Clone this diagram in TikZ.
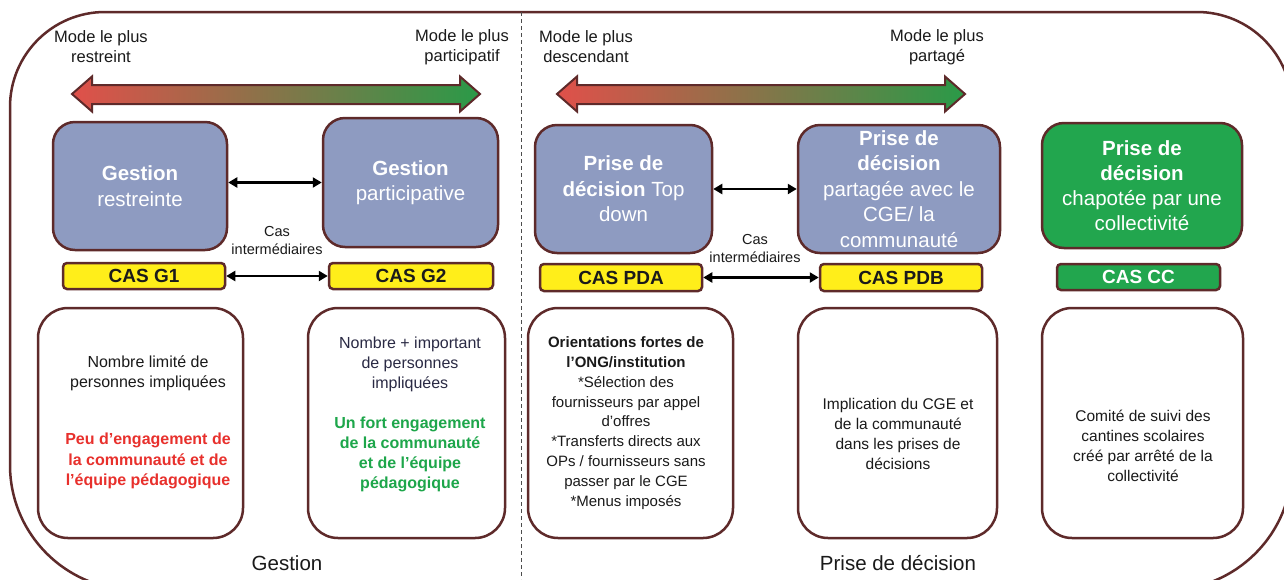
\documentclass[tikz,border=0pt]{standalone}
\usepackage{fontspec}
\setmainfont{Liberation Sans}
\usetikzlibrary{arrows.meta}
\definecolor{brd}{HTML}{5E2A2A}
\definecolor{bluef}{HTML}{8E9BC1}
\definecolor{yel}{HTML}{FFEE1A}
\definecolor{grn}{HTML}{22A64E}
\definecolor{redt}{HTML}{E8302C}
\definecolor{grnt}{HTML}{1DA64A}
\definecolor{arrred}{HTML}{E0504A}
\definecolor{arrgrn}{HTML}{2A9A48}
\definecolor{navy}{HTML}{2A2A44}
\definecolor{txt}{HTML}{1A1A1A}
\newcommand\setfs[2]{\fontsize{#1}{#2}\selectfont}
\begin{document}
\begin{tikzpicture}[x=1pt,y=-1pt,
  frame/.style={draw=brd, line width=2.5pt},
  bluebox/.style={draw=brd, line width=2.5pt, fill=bluef, rounded corners=22pt, align=center, text=white, font=\setfs{20.5}{25.5}},
  greenbox/.style={draw=brd, line width=2.5pt, fill=grn, rounded corners=22pt, align=center, text=white, font=\setfs{20.5}{25}},
  yelbox/.style={draw=brd, line width=2.5pt, fill=yel, rounded corners=4pt, text=txt, font=\setfs{19}{22}\bfseries, inner sep=0pt},
  ccbox/.style={draw=brd, line width=2.5pt, fill=grn, rounded corners=4pt, text=white, font=\setfs{19}{22}\bfseries, inner sep=0pt},
  whitebox/.style={draw=brd, line width=2.5pt, fill=white, rounded corners=30pt, minimum height=230pt},
  body/.style={align=center, inner sep=0pt, text=txt, font=\setfs{16}{20}},
  modelbl/.style={align=center, inner sep=0pt, text=txt, font=\setfs{16.5}{20}},
  caslbl/.style={align=center, inner sep=0pt, text=txt, font=\setfs{14.5}{18}},
  seclbl/.style={inner sep=0pt, text=txt, font=\setfs{20.5}{24}},
  link/.style={draw=black, line width=2.5pt, {Triangle[length=9pt,width=10pt]}-{Triangle[length=9pt,width=10pt]}},
  bigarrow/.style={draw=brd, line width=2pt, left color=arrred, right color=arrgrn}
]
\useasboundingbox (0,0) rectangle (1284,579);
\fill[white] (0,0) rectangle (1284,579);
\begin{scope}
\clip (0,0) rectangle (1284,579);
\draw[frame, rounded corners=95pt] (10,300) -- (10,12) -- (1292,12) -- (1292,300)
  [rounded corners=125pt] -- (1292,590) -- (10,590) -- cycle;
\end{scope}
\draw[black!70, line width=0.8pt, dash pattern=on 4pt off 3pt] (521,12) -- (521,579);

% gradient double arrows
\draw[bigarrow] (72,94) -- (92,76.5) -- (92,85) -- (460,85) -- (460,76.5) -- (480,94)
  -- (460,111.5) -- (460,104) -- (92,104) -- (92,111.5) -- cycle;
\draw[bigarrow] (557,94) -- (577,76.5) -- (577,85) -- (945,85) -- (945,76.5) -- (965,94)
  -- (945,111.5) -- (945,104) -- (577,104) -- (577,111.5) -- cycle;

% mode labels
\node[modelbl] (m1) at (101,47) {Mode le plus\\restreint};
\node[modelbl] (m2) at (462,47) {Mode le plus\\participatif};
\node[modelbl] (m3) at (586,47) {Mode le plus\\descendant};
\node[modelbl] (m4) at (937,47) {Mode le plus\\partagé};

% top boxes
\node[bluebox, minimum width=174pt, minimum height=128pt] (gr) at (140,186) {\textbf{Gestion}\\restreinte};
\node[bluebox, minimum width=175pt, minimum height=129pt] (gp) at (410.5,182.5) {\textbf{Gestion}\\participative};
\node[bluebox, minimum width=177pt, minimum height=128pt] (pa) at (623.5,189) {\textbf{Prise de}\\\textbf{décision} Top\\down};
\node[bluebox, minimum width=202pt, minimum height=128pt] (pb) at (899,189) {\textbf{Prise de}\\\textbf{décision}\\partagée avec le\\CGE/ la\\communauté};
\node[greenbox, minimum width=200pt, minimum height=125pt] (cc) at (1142,185.5) {\textbf{Prise de}\\\textbf{décision}\\chapotée par une\\collectivité};

% CAS boxes
\node[yelbox, minimum width=162pt, minimum height=26pt] (g1) at (144,276) {CAS G1};
\node[yelbox, minimum width=164pt, minimum height=26pt] (g2) at (411,276) {CAS G2};
\node[yelbox, minimum width=162pt, minimum height=27pt] (ca) at (621,277.5) {CAS PDA};
\node[yelbox, minimum width=162pt, minimum height=27pt] (cb) at (901,277.5) {CAS PDB};
\node[ccbox, minimum width=163pt, minimum height=26pt] (ccc) at (1138.5,277) {CAS CC};

% connectors
\draw[link] (gr.east |- gp.west) -- (gp.west);
\draw[link] (g1.east) -- (g2.west);
\draw[link] (pa.east) -- (pb.west);
\draw[link] (ca.east) -- (cb.west);

\node[caslbl] (ci1) at (277,241) {Cas\\intermédiaires};
\node[caslbl] (ci2) at (755,249) {Cas\\intermédiaires};

% bottom boxes
\node[whitebox, minimum width=205pt] (b1) at (140.5,423) {};
\node[whitebox, minimum width=197pt] (b2) at (406.5,423) {};
\node[whitebox, minimum width=205pt] (b3) at (630.5,423) {};
\node[whitebox, minimum width=199pt] (b4) at (897.5,423) {};
\node[whitebox, minimum width=201pt] (b5) at (1142.5,423) {};

\node[body] (t1a) at (148,373) {Nombre limité de\\personnes impliquées};
\node[body, text=redt, font=\setfs{16}{20.5}\bfseries] (t1b) at (148,461) {Peu d’engagement de\\la communauté et de\\l’équipe pédagogique};
\node[body, text=navy] (t2a) at (410,364) {Nombre + important\\de personnes\\impliquées};
\node[body, text=grnt, font=\setfs{16}{20}\bfseries] (t2b) at (410,454) {Un fort engagement\\de la communauté\\et de l’équipe\\pédagogique};
\node[body, font=\setfs{15}{19.8}] (t3) at (626,423) {\textbf{Orientations fortes de}\\\textbf{l’ONG/institution}\\*Sélection des\\fournisseurs par appel\\d’offres\\*Transferts directs aux\\OPs / fournisseurs sans\\passer par le CGE\\*Menus imposés};
\node[body, font=\setfs{15.5}{20}] (t4) at (898,434) {Implication du CGE et\\de la communauté\\dans les prises de\\décisions};
\node[body, font=\setfs{15.5}{20}] (t5) at (1143,446) {Comité de suivi des\\cantines scolaires\\créé par arrêté de la\\collectivité};

\node[seclbl] (lg) at (287,563) {Gestion};
\node[seclbl] (lp) at (898,563) {Prise de décision};
\end{tikzpicture}
\end{document}
